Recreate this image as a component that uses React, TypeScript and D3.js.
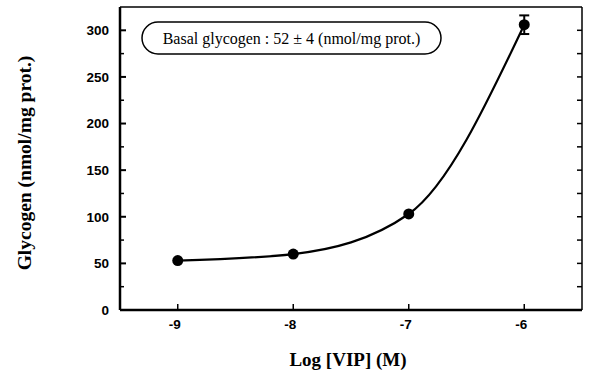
import React from 'react'
import * as d3 from 'd3'

// data
const logVip = [-9, -8, -7, -6]
const glycogen = [53, 60, 103, 306]
const sem = [0, 0, 0, 10]
const xTicks = [-9, -8, -7, -6]
const yTicks = [0, 50, 100, 150, 200, 250, 300]
const yMinor = [25, 75, 125, 175, 225, 275]

const W = 590
const H = 378
const margin = { left: 120, right: 8, top: 7, bottom: 68 }

const App = () => {
    const x = d3.scaleLinear().domain([-9.5, -5.5]).range([margin.left, W - margin.right])
    const y = d3.scaleLinear().domain([0, 325]).range([H - margin.bottom, margin.top])

    const pts = logVip.map((v, i) => [v, glycogen[i]] as [number, number])
    const line = d3.line<[number, number]>()
        .x(d => x(d[0]))
        .y(d => y(d[1]))
        .curve(d3.curveMonotoneX)

    const x0 = margin.left
    const x1 = W - margin.right
    const y0 = H - margin.bottom
    const y1 = margin.top

    return (
        <svg width={W} height={H} style={{ display: 'block', position: 'absolute', left: 0, top: 0, background: '#fff' }}>
            {/* frame */}
            <line x1={x0} y1={y1} x2={x1} y2={y1} stroke="#000" strokeWidth={1.5} />
            <line x1={x1} y1={y1} x2={x1} y2={y0} stroke="#000" strokeWidth={1.5} />
            <line x1={x0} y1={y0} x2={x1} y2={y0} stroke="#000" strokeWidth={2.5} />
            <line x1={x0} y1={y1} x2={x0} y2={y0} stroke="#000" strokeWidth={2.5} />

            {/* y ticks */}
            {yTicks.map(t => (
                <g key={'y' + t}>
                    <line x1={x0} x2={x0 + 6} y1={y(t)} y2={y(t)} stroke="#000" strokeWidth={2} />
                    <line x1={x1} x2={x1 - 5} y1={y(t)} y2={y(t)} stroke="#000" strokeWidth={1.5} />
                    <text x={x0 - 11} y={y(t)} dy="0.36em" textAnchor="end"
                        style={{ font: 'bold 13.5px "Liberation Sans", Arial, sans-serif' }}>{t}</text>
                </g>
            ))}
            {yMinor.map(t => (
                <g key={'m' + t}>
                    <line x1={x0} x2={x0 + 4} y1={y(t)} y2={y(t)} stroke="#000" strokeWidth={1.5} />
                    <line x1={x1} x2={x1 - 5} y1={y(t)} y2={y(t)} stroke="#000" strokeWidth={1.5} />
                </g>
            ))}

            {/* x ticks */}
            {xTicks.map(t => (
                <g key={'x' + t}>
                    <line x1={x(t)} x2={x(t)} y1={y0} y2={y0 - 6} stroke="#000" strokeWidth={1.5} />
                    <text x={x(t) - 3} y={y0 + 19} textAnchor="middle"
                        style={{ font: 'bold 13.5px "Liberation Sans", Arial, sans-serif' }}>{t}</text>
                </g>
            ))}

            {/* fitted curve */}
            <path d={line(pts) ?? ''} fill="none" stroke="#000" strokeWidth={2.2} />

            {/* error bars */}
            {pts.map((p, i) => sem[i] > 0 && (
                <g key={'e' + i} stroke="#000" strokeWidth={2}>
                    <line x1={x(p[0])} x2={x(p[0])} y1={y(p[1] - sem[i])} y2={y(p[1] + sem[i])} />
                    <line x1={x(p[0]) - 5} x2={x(p[0]) + 5} y1={y(p[1] + sem[i])} y2={y(p[1] + sem[i])} />
                    <line x1={x(p[0]) - 5} x2={x(p[0]) + 5} y1={y(p[1] - sem[i])} y2={y(p[1] - sem[i])} />
                </g>
            ))}

            {/* points */}
            {pts.map((p, i) => (
                <circle key={'p' + i} cx={x(p[0])} cy={y(p[1])} r={5.5} fill="#000" />
            ))}

            {/* annotation */}
            <rect x={142} y={22} width={299} height={32} rx={16} ry={16} fill="#fff" stroke="#000" strokeWidth={1.5} />
            <text x={291.5} y={38} dy="0.35em" textAnchor="middle"
                style={{ font: '16px "Liberation Serif", "Times New Roman", serif' }}>
                Basal glycogen : 52 ± 4 (nmol/mg prot.)
            </text>

            {/* axis titles */}
            <text x={348} y={366} textAnchor="middle"
                style={{ font: 'bold 19px "Liberation Serif", "Times New Roman", serif' }}>Log [VIP] (M)</text>
            <text transform="translate(31, 163) rotate(-90)" textAnchor="middle"
                style={{ font: 'bold 19.5px "Liberation Serif", "Times New Roman", serif' }}>Glycogen (nmol/mg prot.)</text>
        </svg>
    )
}

export default App
